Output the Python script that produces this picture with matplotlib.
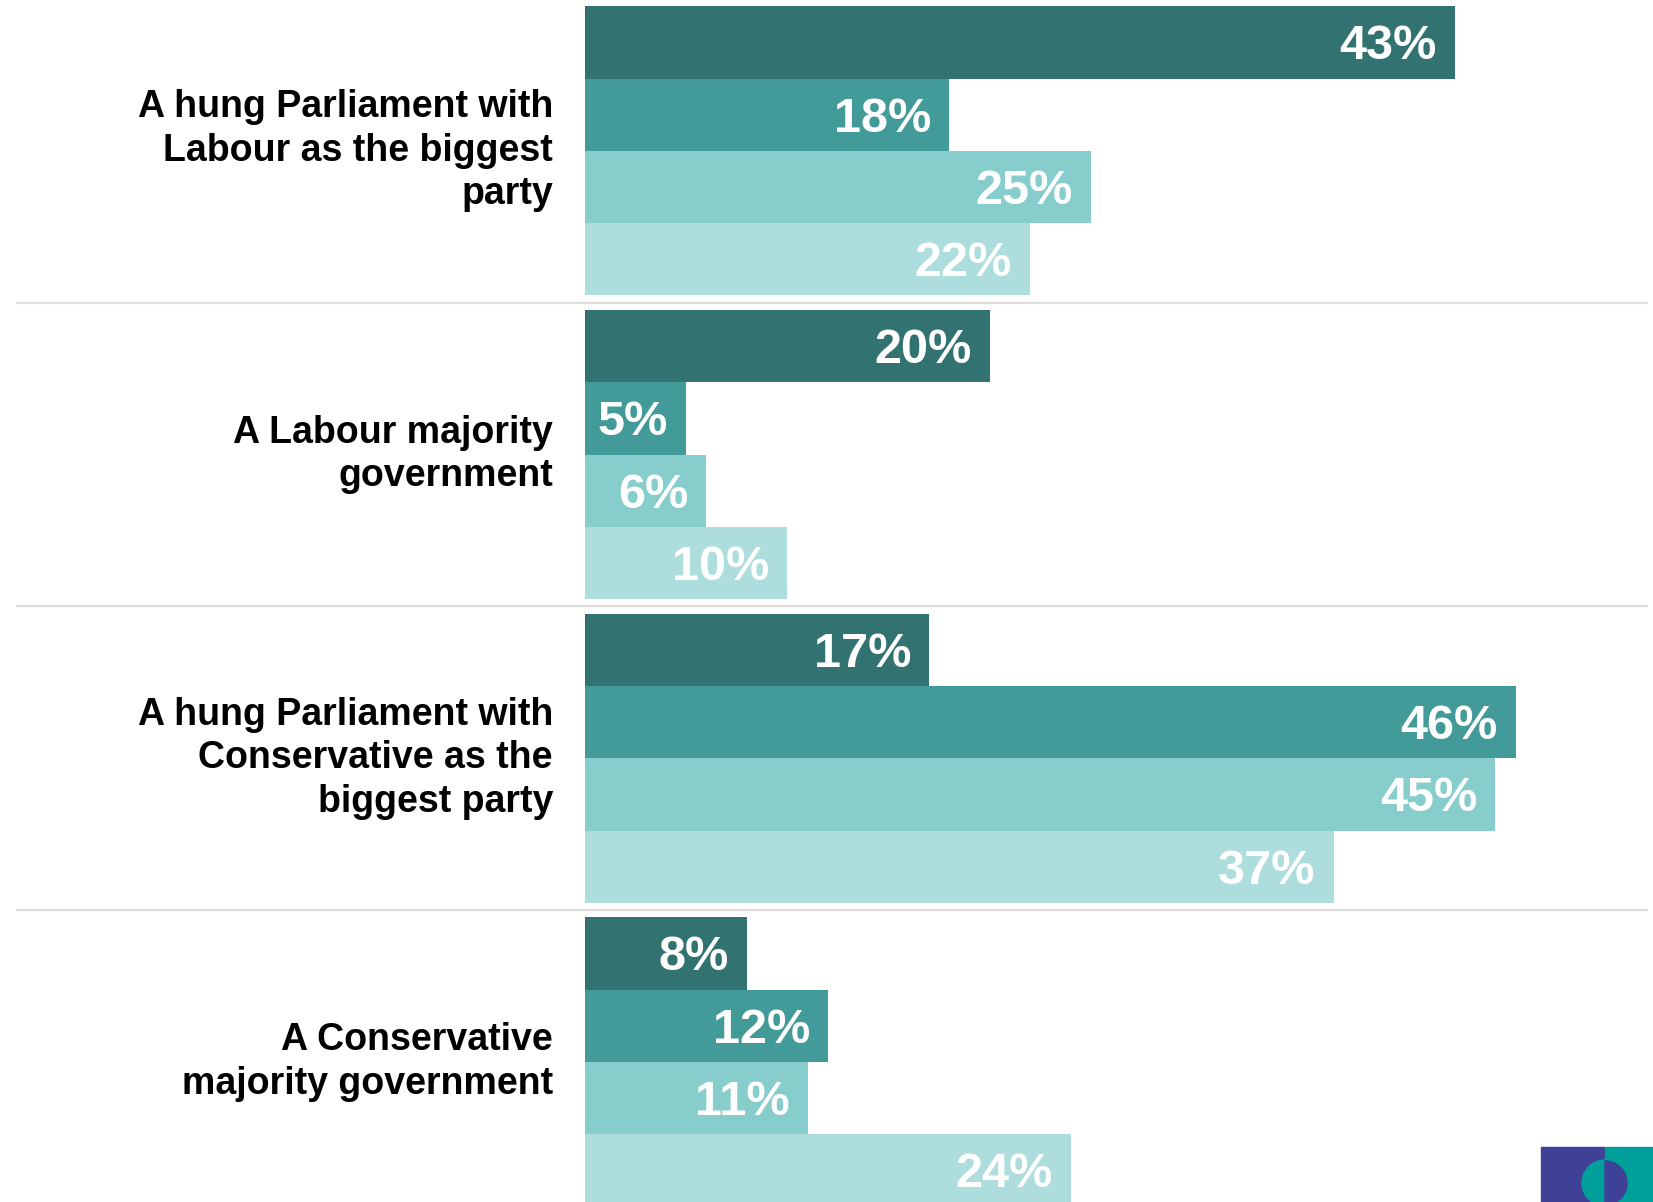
import matplotlib
matplotlib.use("Agg")
import matplotlib.pyplot as plt
from matplotlib.patches import Rectangle, Wedge
from matplotlib.transforms import Affine2D
from matplotlib import font_manager

categories = [
    "A hung Parliament with\nLabour as the biggest\nparty",
    "A Labour majority\ngovernment",
    "A hung Parliament with\nConservative as the\nbiggest party",
    "A Conservative\nmajority government",
]
series_values = [
    [43, 18, 25, 22],
    [20, 5, 6, 10],
    [17, 46, 45, 37],
    [8, 12, 11, 24],
]
colors = ["#327371", "#429a99", "#86cdcc", "#aedddd"]

names = {f.name for f in font_manager.fontManager.ttflist}
label_font = "Liberation Sans" if "Liberation Sans" in names else "DejaVu Sans"
value_font = label_font

W, H = 1653, 1202
fig = plt.figure(figsize=(W / 100, H / 100), dpi=100)
ax_left = 585
px_per_pct = 20.23
ax = fig.add_axes([ax_left / W, 0, (W - ax_left) / W, 1])
ax.set_xlim(0, (W - ax_left) / px_per_pct)
bar_px = 72.3
top = -0.5 - 6.3 / bar_px
ax.set_ylim(top + H / bar_px, top)
ax.axis("off")

pitch = 4.2
for g, vals in enumerate(series_values):
    for j, v in enumerate(vals):
        y = g * pitch + j
        ax.barh(y, v, height=1.0, color=colors[j], edgecolor="none")
        ax.text(v - 18 / px_per_pct, y + 0.06, f"{v}%", ha="right", va="center",
                color="white", fontsize=35, fontweight="bold", family=value_font)
    yc = g * pitch + 1.5
    ax.text(-32 / px_per_pct, yc, categories[g], ha="right", va="center",
            fontsize=27, fontweight="bold", family=label_font, color="black",
            linespacing=1.27)
    if g < len(series_values) - 1:
        ax.axhline(g * pitch + 3.6, xmin=(17 - ax_left) / (W - ax_left),
                   xmax=(1647 - ax_left) / (W - ax_left), color="#dcdcdc",
                   linewidth=1.6, clip_on=False)

# logo
def fx(x): return x / W
def fy(y): return 1 - y / H
fig.patches.append(Rectangle((fx(1541), fy(1202)), fx(1605) - fx(1541), fy(1147) - fy(1202),
                             transform=fig.transFigure, color="#3e4196", zorder=5))
fig.patches.append(Rectangle((fx(1605), fy(1202)), fx(1653) - fx(1605), fy(1147) - fy(1202),
                             transform=fig.transFigure, color="#00a09a", zorder=5))
pxtrans = Affine2D().scale(1, -1).translate(0, H)
fig.patches.append(Wedge((1605, 1183), 23, 90, 270, transform=pxtrans, color="#00a09a", zorder=6))
fig.patches.append(Wedge((1605, 1183), 22, 270, 90, transform=pxtrans, color="#3e4196", zorder=6))

fig.savefig("out.png", dpi=100)
